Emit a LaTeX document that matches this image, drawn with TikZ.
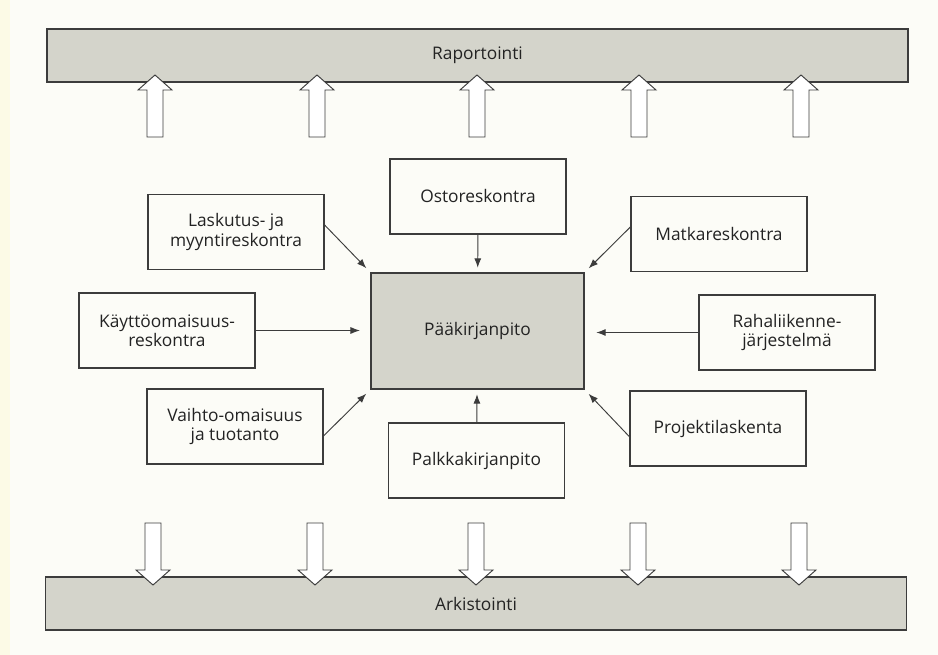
\documentclass[tikz,border=0pt]{standalone}
\usepackage{fontspec}
\setmainfont{Open Sans}
\usepackage{tikz}
\usetikzlibrary{arrows.meta,positioning}
\definecolor{paper}{RGB}{252,252,247}
\definecolor{edge}{RGB}{60,60,60}
\definecolor{ink}{RGB}{35,35,35}
\definecolor{shade}{RGB}{212,212,203}
\definecolor{strip}{RGB}{252,250,230}

\begin{document}
\begin{tikzpicture}[
    x=0.03cm, y=-0.03cm,
    >={Latex[length=8pt,width=6pt]},
    font=\fontsize{14.8}{16.5}\selectfont,
    text=ink,
    modul/.style={
		rectangle,
		draw=edge,
		line width=1pt,
		align=center,
		minimum width=5.28cm,
		minimum height=2.25cm,
		inner sep=2pt,
		fill=paper
	},
	bar/.style={
		rectangle,
		draw=edge,
		line width=1pt,
		fill=shade,
		minimum width=25.83cm,
		minimum height=1.59cm
	},
	main/.style={
		rectangle,
		draw=edge,
		line width=1pt,
		fill=shade,
		minimum width=6.39cm,
		minimum height=3.48cm
	},
	link/.style={
		draw=edge,
		line width=0.8pt,
		->
	},
	blockarrow/.style={
		draw=edge,
		line width=0.8pt,
		fill=white,
		line join=miter
	}
  ]
  % paper
  \fill [paper] (0,0) rectangle (938,655);
  \fill [strip] (0,0) rectangle (10,655);

  % the two bars
  \node [bar] (raport) at (477.5,55.5) {Raportointi};
  \node [bar] (arkist) at (476,603.5) {Arkistointi};

  % block arrows up and down
  \foreach \x in {155,317,477,639,801}
    \draw [blockarrow] (\x-8,137) -- (\x-8,90) -- (\x-17,90) -- (\x,75)
      -- (\x+17,90) -- (\x+8,90) -- (\x+8,137) -- cycle;
  \foreach \x in {153,315,476,638,799}
    \draw [blockarrow] (\x-8,523) -- (\x-8,570) -- (\x-17,570) -- (\x,585)
      -- (\x+17,570) -- (\x+8,570) -- (\x+8,523) -- cycle;

  % the ledger in the middle
  \node [main] (paak) at (477.5,331) {Pääkirjanpito};

  % the sub-ledgers round it
  \node [modul] (osto) at (478,196.5) {Ostoreskontra};
  \node [modul] (lasku) at (236,232) {Laskutus- ja\\myyntireskontra};
  \node [modul] (kaytto) at (167,330.5) {Käyttöomaisuus-\\reskontra};
  \node [modul] (vaihto) at (235,426.5) {Vaihto-omaisuus\\ja tuotanto};
  \node [modul] (palkka) at (476.5,460.5) {Palkkakirjanpito};
  \node [modul] (matka) at (719,234) {Matkareskontra};
  \node [modul] (raha) at (787,332.5) {Rahaliikenne-\\järjestelmä};
  \node [modul] (proj) at (718,428.5) {Projektilaskenta};

  \draw [link, shorten >=4pt] (osto) -- (paak);
  \draw [link, shorten >=5pt] ([yshift=6pt]lasku.east) -- (paak.north west);
  \draw [link, shorten >=9pt] (kaytto.east) -- (kaytto.east -| paak.west);
  \draw [link, shorten >=5pt] ([yshift=-8pt]vaihto.east) -- (paak.south west);
  \draw [link, shorten >=4pt] (palkka) -- (paak);
  \draw [link, shorten >=5pt] ([yshift=6pt]matka.west) -- (paak.north east);
  \draw [link, shorten >=10pt] (raha.west) -- (raha.west -| paak.east);
  \draw [link, shorten >=5pt] ([yshift=-7pt]proj.west) -- (paak.south east);
\end{tikzpicture}
\end{document}
